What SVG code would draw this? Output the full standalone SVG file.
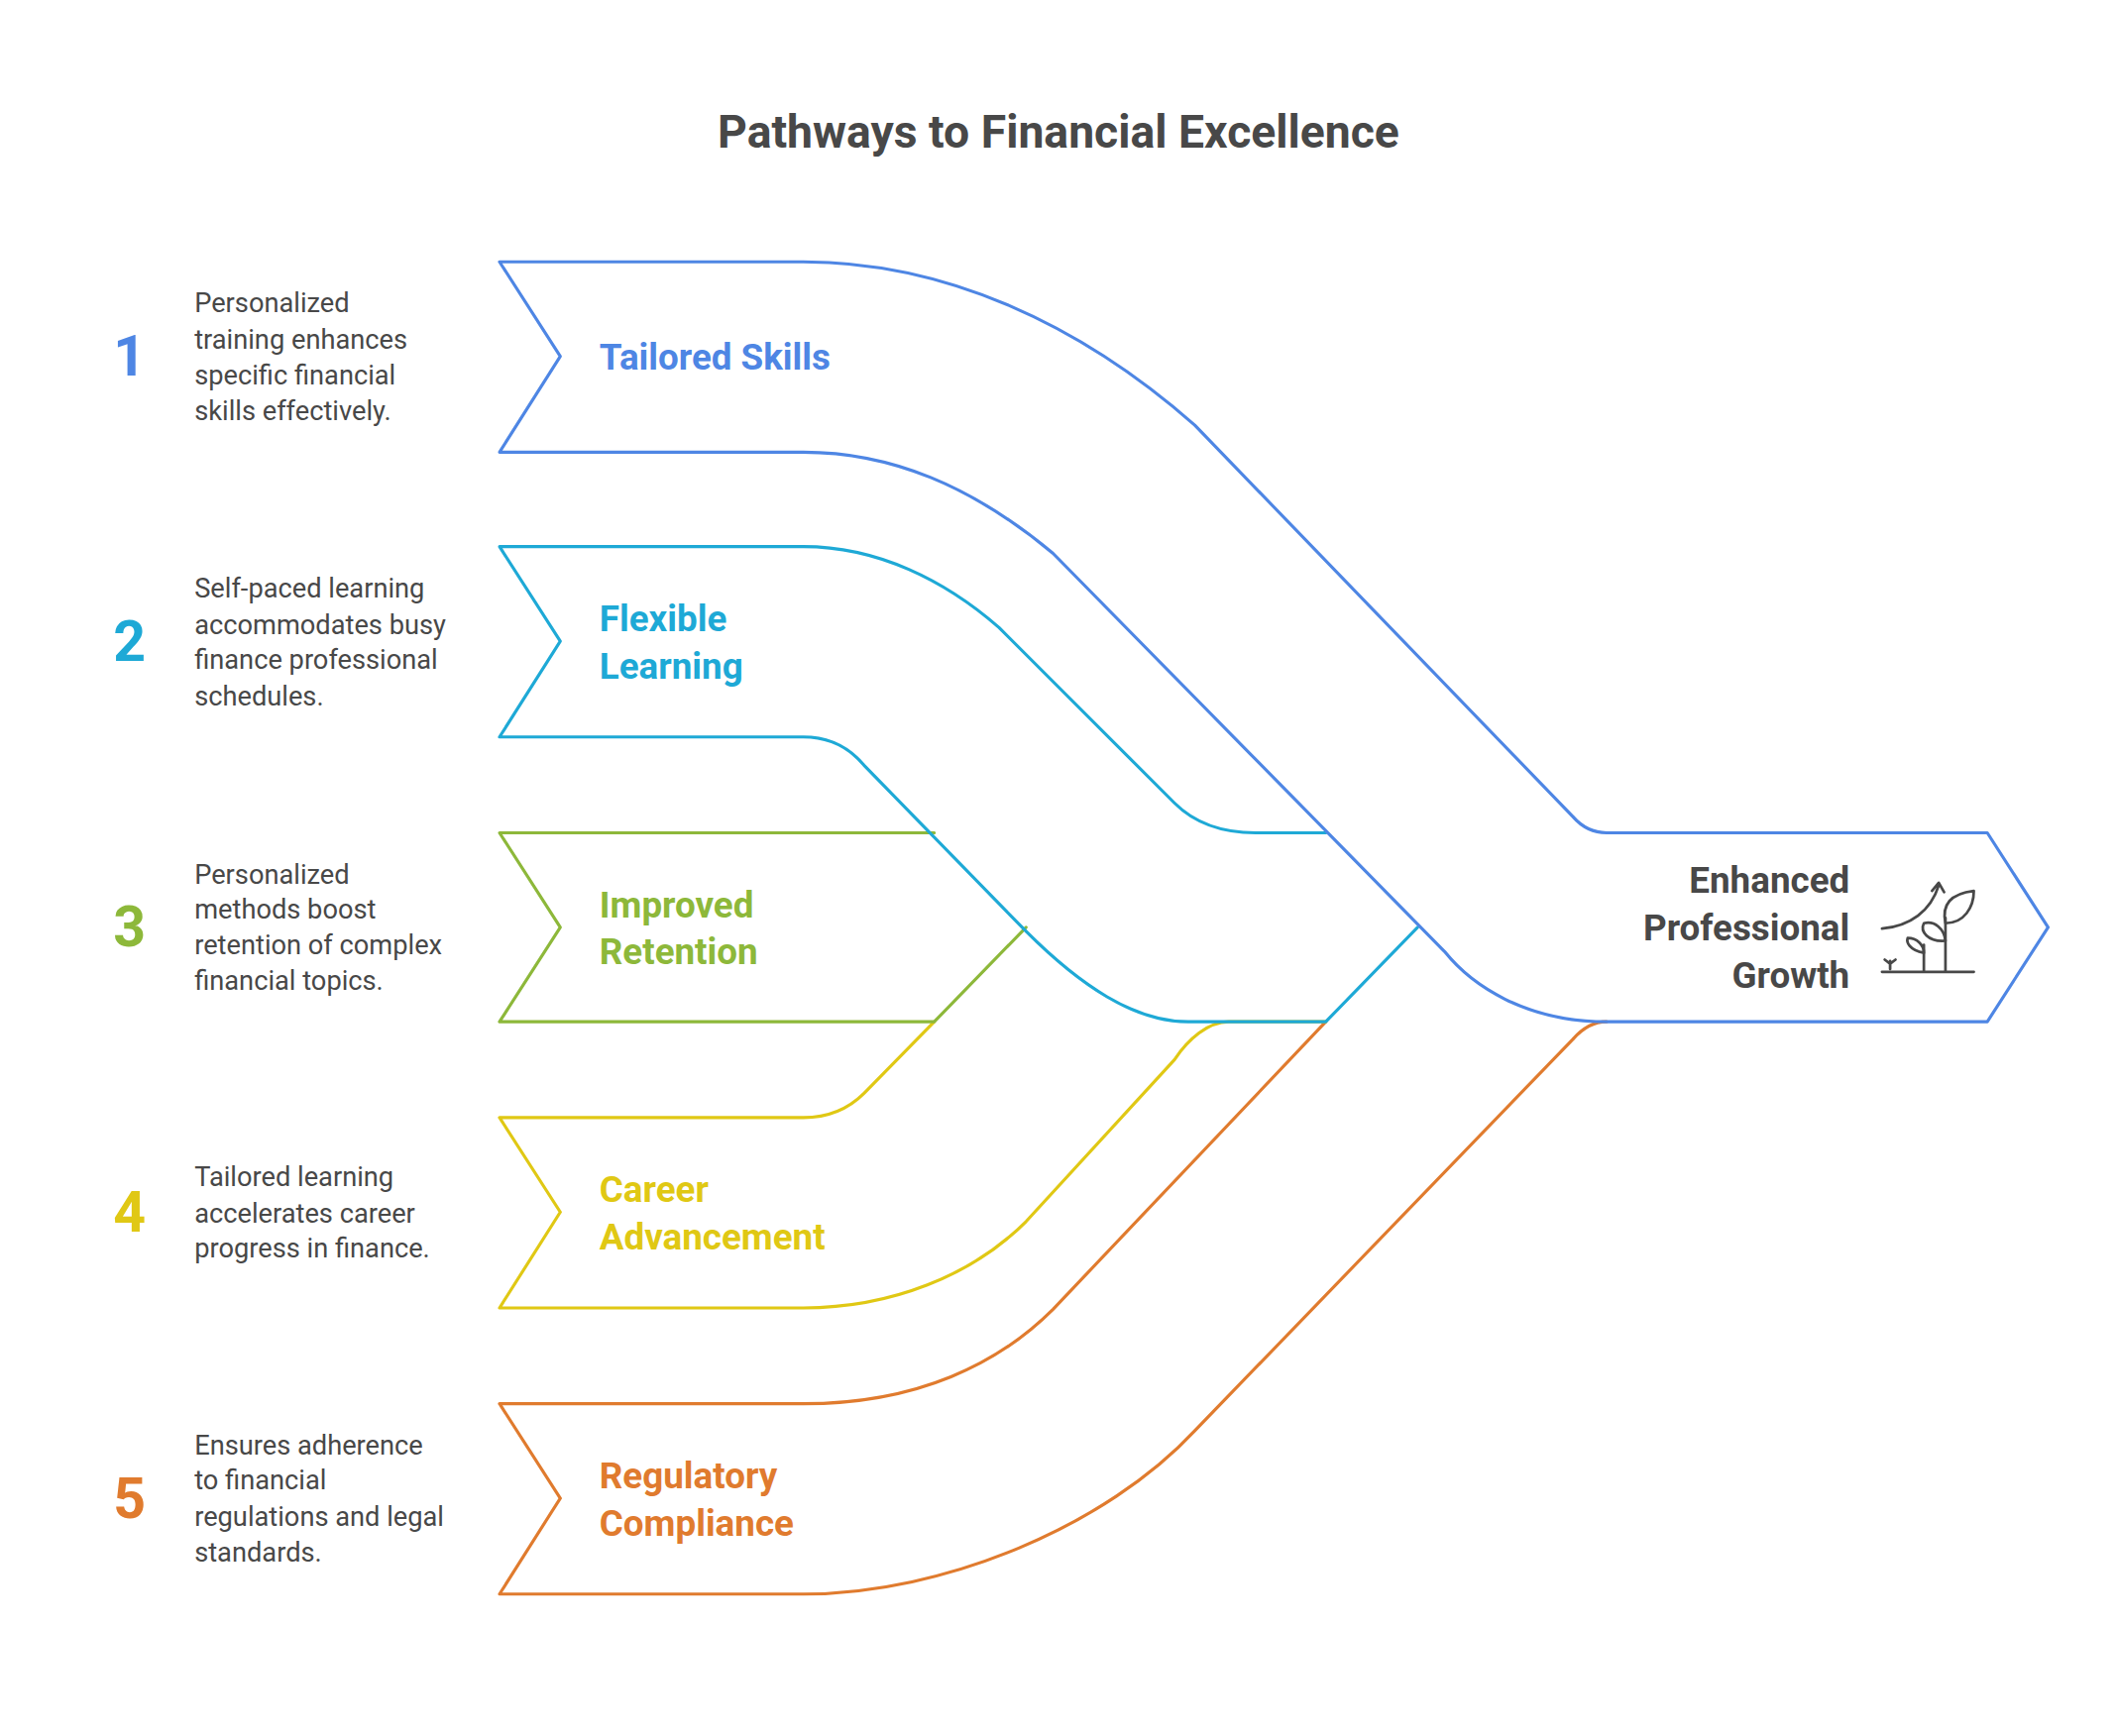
<svg xmlns="http://www.w3.org/2000/svg" width="2136" height="1752" viewBox="0 0 2136 1752">
<style>
.e{fill:none;stroke-width:2.3;stroke-linejoin:round;stroke-linecap:round}
.d{font-family:Roboto,"Liberation Sans",sans-serif;font-size:20px;fill:#484848}
.n{font-family:Roboto,"Liberation Sans",sans-serif;font-size:42px;font-weight:bold}
.l{font-family:Roboto,"Liberation Sans",sans-serif;font-size:27px;font-weight:bold}
</style>
<rect width="2136" height="1752" fill="#fff"/>
<g transform="scale(1.3622)">
<text x="784" y="98" text-anchor="middle" dominant-baseline="central" style="font-family:Roboto,'Liberation Sans',sans-serif;font-size:34px;font-weight:bold;fill:#484848">Pathways to Financial Excellence</text>
<g id="connectors">
<path class="e" stroke="#E07B2E" d="M370,1040 L595,1040 C680,1040 740,1010 780,970 L982,757 M415,1110 L370,1040 M415,1110 L370,1181 L595,1181 C700,1181 820,1130 885,1060 L1165,770 C1172,762 1180,757 1190,757"/>
<path class="e" stroke="#E0C814" d="M370,828 L595,828 C615,828 630,820 640,810 L692,757 M415,898 L370,828 M415,898 L370,969 L595,969 C660,969 720,945 760,905 L870,785 C880,770 895,757 910,757 L982,757"/>
<path class="e" stroke="#8DB83A" d="M692,617 L370,617 L415,687 L370,757 L692,757 L760,687"/>
<path class="e" stroke="#1EA9D6" d="M982,617 L930,617 C905,617 885,610 870,595 L740,465 C700,430 650,405 595,405 L370,405 L415,475 L370,546 L595,546 C615,546 630,555 640,567 L760,690 C800,730 840,757 880,757 L982,757 L1050,687"/>
<path class="e" stroke="#4E86E4" d="M370,194 L595,194 C700,194 800,240 885,315 L1165,605 C1172,613 1180,617 1190,617 L1472,617 L1517,687 L1472,757 L1190,757 C1130,757 1090,730 1070,705 L780,410 C720,360 660,335 595,335 L370,335 L415,264 Z"/>
</g>
<g id="n1"><text class="n" x="96" y="264" fill="#4E86E4" text-anchor="middle" dominant-baseline="central">1</text>
<text class="d" x="144" dominant-baseline="central"><tspan x="144" y="225">Personalized</tspan><tspan x="144" y="252">training enhances</tspan><tspan x="144" y="278">specific financial</tspan><tspan x="144" y="305">skills effectively.</tspan></text>
<text class="l" x="444" y="265" fill="#4E86E4" dominant-baseline="central">Tailored Skills</text></g>
<g id="n2"><text class="n" x="96" y="475" fill="#1EA9D6" text-anchor="middle" dominant-baseline="central">2</text>
<text class="d" dominant-baseline="central"><tspan x="144" y="436">Self-paced learning</tspan><tspan x="144" y="463">accommodates busy</tspan><tspan x="144" y="489">finance professional</tspan><tspan x="144" y="516">schedules.</tspan></text>
<text class="l" fill="#1EA9D6" dominant-baseline="central"><tspan x="444" y="458">Flexible</tspan><tspan x="444" y="493">Learning</tspan></text></g>
<g id="n3"><text class="n" x="96" y="687" fill="#8DB83A" text-anchor="middle" dominant-baseline="central">3</text>
<text class="d" dominant-baseline="central"><tspan x="144" y="648">Personalized</tspan><tspan x="144" y="674">methods boost</tspan><tspan x="144" y="700">retention of complex</tspan><tspan x="144" y="727">financial topics.</tspan></text>
<text class="l" fill="#8DB83A" dominant-baseline="central"><tspan x="444" y="670">Improved</tspan><tspan x="444" y="705">Retention</tspan></text></g>
<g id="n4"><text class="n" x="96" y="898" fill="#E0C814" text-anchor="middle" dominant-baseline="central">4</text>
<text class="d" dominant-baseline="central"><tspan x="144" y="872">Tailored learning</tspan><tspan x="144" y="899">accelerates career</tspan><tspan x="144" y="925">progress in finance.</tspan></text>
<text class="l" fill="#E0C814" dominant-baseline="central"><tspan x="444" y="881">Career</tspan><tspan x="444" y="916">Advancement</tspan></text></g>
<g id="n5"><text class="n" x="96" y="1110" fill="#E07B2E" text-anchor="middle" dominant-baseline="central">5</text>
<text class="d" dominant-baseline="central"><tspan x="144" y="1071">Ensures adherence</tspan><tspan x="144" y="1097">to financial</tspan><tspan x="144" y="1124">regulations and legal</tspan><tspan x="144" y="1150">standards.</tspan></text>
<text class="l" fill="#E07B2E" dominant-baseline="central"><tspan x="444" y="1093">Regulatory</tspan><tspan x="444" y="1128">Compliance</tspan></text></g>
<g id="out"><text class="l" fill="#484848" text-anchor="end" dominant-baseline="central"><tspan x="1370" y="652">Enhanced</tspan><tspan x="1370" y="687">Professional</tspan><tspan x="1370" y="722">Growth</tspan></text>
<g fill="none" stroke="#484848" stroke-width="2" stroke-linecap="round" stroke-linejoin="round">
<path d="M1394,720 L1462,720 M1441,720 L1441,680 M1425,720 L1425,700 M1394,688 C1415,686 1430,675 1436,656 M1431,660 L1436,654 L1440,661"/>
<path d="M1441,684 C1438,670 1445,662 1462,660 C1462,672 1455,684 1441,684 Z M1441,697 C1428,698 1422,690 1425,684 C1433,682 1440,688 1441,697 Z M1425,706 C1414,704 1412,698 1413,695 C1420,695 1425,700 1425,706 Z M1400,718 L1400,712 M1396,711 L1400,714 L1404,711"/>
</g></g>
</g>
</svg>
